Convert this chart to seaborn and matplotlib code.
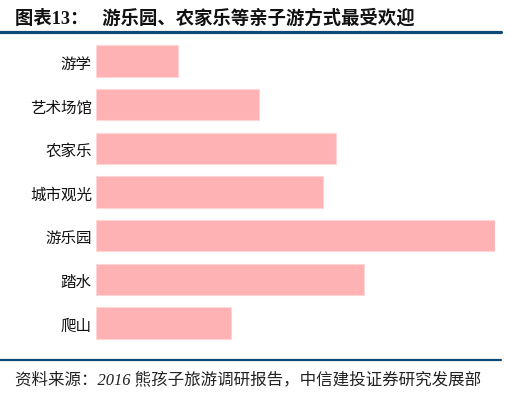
import matplotlib
matplotlib.use("Agg")
import matplotlib.pyplot as plt
import seaborn as sns
import pandas as pd
from matplotlib.lines import Line2D

categories = ["游学", "艺术场馆", "农家乐", "城市观光", "游乐园", "踏水", "爬山"]
values = [8.2, 16.3, 24.0, 22.7, 39.9, 26.8, 13.5]

title_text = "图表13：   游乐园、农家乐等亲子游方式最受欢迎"
source_text = "资料来源：2016 熊孩子旅游调研报告，中信建投证券研究发展部"

sns.set_theme(style="white")
plt.rcParams["font.family"] = ["Noto Sans CJK SC", "DejaVu Sans"]

df = pd.DataFrame({"cat": categories, "val": values})

W, H = 508, 406
fig = plt.figure(figsize=(W / 100, H / 100), dpi=100)

def fx(px):
    return px / W

def fy(py):
    return 1 - py / H

ax_top, ax_bot = 40.2, 345.8
ax_left, ax_right = 96, 495
ax = fig.add_axes([fx(ax_left), fy(ax_bot), fx(ax_right - ax_left), (ax_bot - ax_top) / H])

sns.barplot(data=df, x="val", y="cat", orient="h", color="#FFB2B3",
            saturation=1, width=0.72, edgecolor="#FFD6D6", linewidth=0.8, ax=ax)

ax.set_xlim(0, max(values))
ax.set_ylim(len(categories) - 0.5, -0.5)
ax.set_xlabel("")
ax.set_ylabel("")
ax.set_xticks([])
for s in ax.spines.values():
    s.set_visible(False)
ax.tick_params(axis="y", length=0, pad=3, labelsize=11.2, labelcolor="#111111")

# Title
fig.text(fx(15), fy(18), title_text, ha="left", va="center", fontsize=13.2,
         fontweight="bold", color="#111111",
         family=["Liberation Serif", "Noto Sans CJK SC", "DejaVu Sans"])

# Lines
fig.add_artist(Line2D([0, fx(501)], [fy(33.2), fy(33.2)], color="#0D4A7A",
                      linewidth=2.3, transform=fig.transFigure))
fig.add_artist(Line2D([0, fx(501)], [fy(361), fy(361)], color="#0D4A7A",
                      linewidth=1.6, transform=fig.transFigure))

# Source
fig.text(fx(15), fy(380), source_text, ha="left", va="center", fontsize=11.9,
         style="italic", color="#222222",
         family=["Liberation Serif", "Noto Sans CJK SC", "DejaVu Sans"])

fig.savefig("out.png", dpi=100)
